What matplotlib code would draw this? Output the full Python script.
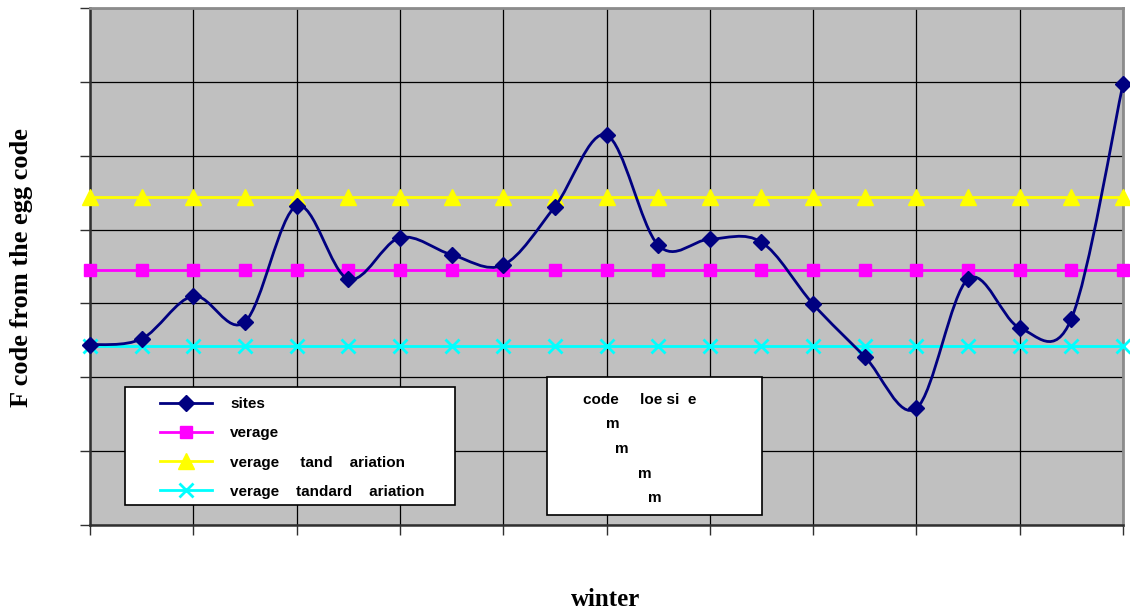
import numpy as np
import matplotlib
matplotlib.use('Agg')
import matplotlib.pyplot as plt
from matplotlib.path import Path
from matplotlib.patches import PathPatch, Rectangle
from matplotlib.lines import Line2D

# values
sites = [2.44, 2.52, 3.10, 2.75, 4.32, 3.33, 3.89, 3.66, 3.52, 4.31, 5.28,
         3.79, 3.87, 3.83, 2.99, 2.28, 1.58, 3.33, 2.67, 2.79, 5.97]
average = 3.45
avg_plus_sd = 4.44
avg_minus_sd = 2.42
labels = ['sites', 'verage', 'verage     tand    ariation',
          'verage    tandard    ariation']
note_lines = ['code     loe si  e', 'm', 'm', 'm', 'm']

n = len(sites)
x = np.arange(n)

fig = plt.figure(figsize=(11.3, 6.15), dpi=100)
L, R, T, B = 90, 1123, 8, 525
ax = fig.add_axes([L / 1130, (615 - B) / 615, (R - L) / 1130, (B - T) / 615])
ax.set_facecolor('#c0c0c0')
ax.set_xlim(0, n - 1)
ax.set_ylim(0, 7)
ax.set_xticks(range(0, n, 2))
ax.set_yticks(range(0, 8))
ax.tick_params(labelbottom=False, labelleft=False, direction='out',
               length=7, width=1, color='#303030')
ax.grid(True, color='black', lw=0.9)
ax.set_axisbelow(True)
for s in ['left', 'bottom']:
    ax.spines[s].set_color('#303030')
    ax.spines[s].set_linewidth(1.8)
for s in ['top', 'right']:
    ax.spines[s].set_color('#8c8c8c')
    ax.spines[s].set_linewidth(2)


def px(xp, yp):
    return (xp - L) / (R - L), (B - yp) / (B - T)


navy = '#000080'
mag = '#ff00ff'
yel = '#ffff00'
cyan = '#00ffff'

# smoothed line like the spreadsheet's (bezier through the points)
pts = np.column_stack([x, sites]).astype(float)
verts = [pts[0]]
codes = [Path.MOVETO]
for i in range(n - 1):
    p0 = pts[max(i - 1, 0)]
    p1 = pts[i]
    p2 = pts[i + 1]
    p3 = pts[min(i + 2, n - 1)]
    verts += [p1 + (p2 - p0) / 6, p2 - (p3 - p1) / 6, p2]
    codes += [Path.CURVE4] * 3
ax.add_patch(PathPatch(Path(verts, codes), fill=False, edgecolor=navy,
                       lw=2, zorder=4))

ax.plot(x, [avg_plus_sd] * n, color=yel, lw=2, marker='^', ms=11,
        clip_on=False, zorder=3)
ax.plot(x, [average] * n, color=mag, lw=2, marker='s', ms=9,
        clip_on=False, zorder=3)
ax.plot(x, [avg_minus_sd] * n, color=cyan, lw=2, marker='x', ms=10,
        mew=2, clip_on=False, zorder=3)
ax.plot(x, sites, ls='none', marker='D', color=navy, ms=8,
        clip_on=False, zorder=5)

# legend
x0, y0 = px(125, 505)
x1, y1 = px(455, 387)
ax.add_patch(Rectangle((x0, y0), x1 - x0, y1 - y0, transform=ax.transAxes,
                       facecolor='white', edgecolor='black', lw=1.2,
                       zorder=6))
handles = [
    Line2D([], [], color=navy, lw=2, marker='D', ms=8),
    Line2D([], [], color=mag, lw=2, marker='s', ms=9),
    Line2D([], [], color=yel, lw=2, marker='^', ms=11),
    Line2D([], [], color=cyan, lw=2, marker='x', ms=10, mew=2),
]
leg = ax.legend(handles, labels, loc='upper left',
                bbox_to_anchor=px(160, 397), frameon=False, borderpad=0,
                borderaxespad=0, handlelength=3.4, handletextpad=1.2,
                labelspacing=1.0,
                prop={'family': 'Liberation Sans', 'size': 11,
                      'weight': 'bold'})
leg.set_zorder(7)

# text box
x0, y0 = px(547, 515)
x1, y1 = px(762, 377)
ax.add_patch(Rectangle((x0, y0), x1 - x0, y1 - y0, transform=ax.transAxes,
                       facecolor='white', edgecolor='black', lw=1.2,
                       zorder=6))
note_pos = [(583, 400), (606, 424), (615, 449), (638, 474), (648, 498)]
for t, (xp, yp) in zip(note_lines, note_pos):
    ax.text(*px(xp, yp), t, transform=ax.transAxes, ha='left', va='center',
            family='Liberation Sans', size=11, weight='bold', zorder=8)

fig.text(22 / 1130, 1 - 268 / 615, 'F code from the egg code', rotation=90,
         ha='center', va='center', family='Liberation Serif', size=19,
         weight='bold')
fig.text(606 / 1130, 1 - 600 / 615, 'winter', ha='center', va='center',
         family='Liberation Serif', size=18, weight='bold')

fig.savefig('out.png', dpi=100)
